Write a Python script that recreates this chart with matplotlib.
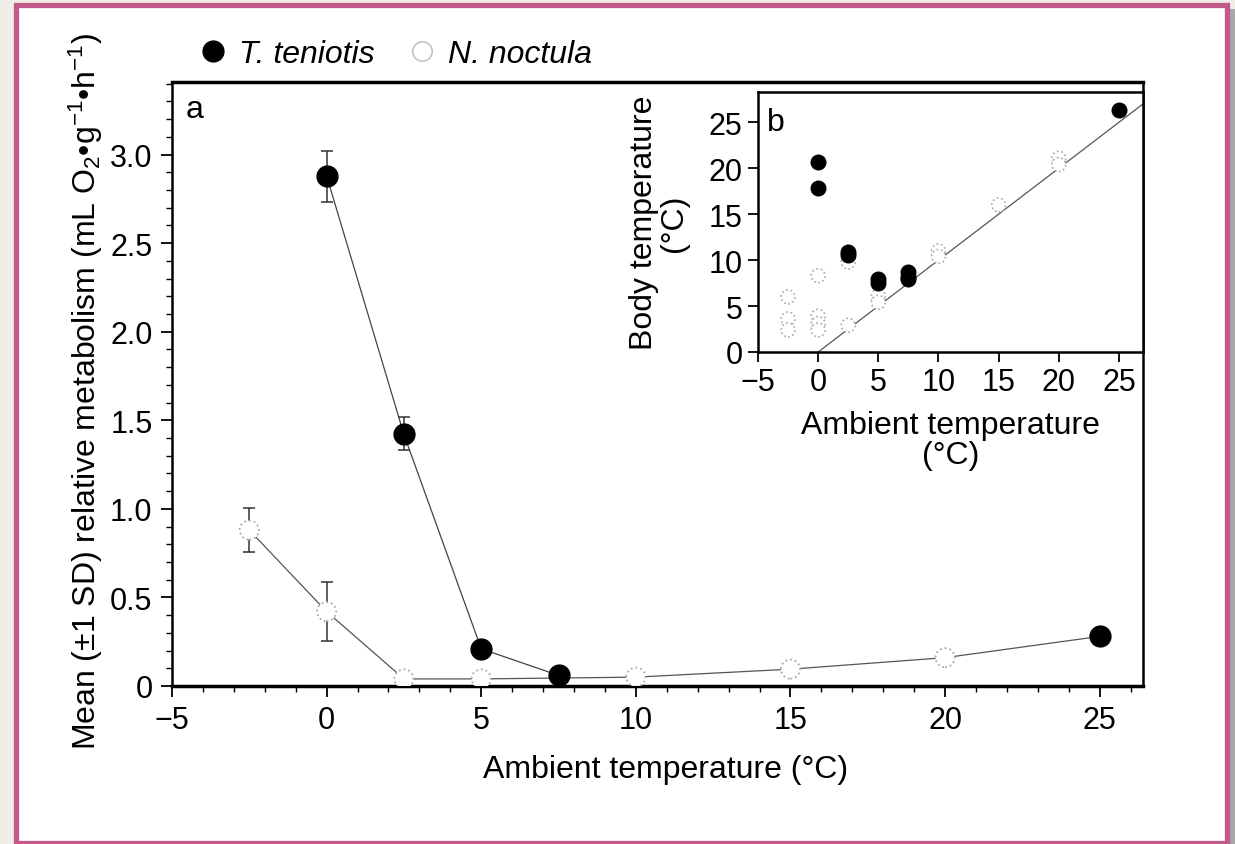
import matplotlib
matplotlib.use("Agg")
import matplotlib.pyplot as plt
from matplotlib.lines import Line2D
from matplotlib.patches import Rectangle
from matplotlib.ticker import MultipleLocator
import numpy as np

plt.rcParams["font.family"] = ["Liberation Sans", "DejaVu Sans"]
plt.rcParams["mathtext.fontset"] = "custom"
plt.rcParams["mathtext.rm"] = "Liberation Sans"
plt.rcParams["mathtext.it"] = "Liberation Sans:italic"

# panel a: mean relative metabolism
teni_x = [0, 2.5, 5, 7.5]
teni_y = [2.88, 1.42, 0.21, 0.06]
teni_err_lo = [0.15, 0.09, 0, 0]
teni_err_hi = [0.14, 0.10, 0, 0]
teni25_x = [25]
teni25_y = [0.28]

noct_x = [-2.5, 0, 2.5, 5, 10, 15, 20, 25]
noct_y = [0.88, 0.42, 0.04, 0.04, 0.05, 0.095, 0.16, 0.28]
noct_err = [0.125, 0.165, 0, 0, 0, 0, 0, 0]

# panel b: body vs ambient temperature
b_teni_x = [0, 0, 2.5, 2.5, 5, 5, 7.5, 7.5, 7.5, 25]
b_teni_y = [20.7, 17.8, 10.9, 10.6, 7.9, 7.5, 8.7, 8.2, 7.9, 26.3]
b_noct_x = [-2.5, -2.5, -2.5, 0, 0, 0, 0, 2.5, 2.5, 5, 5, 10, 10, 15, 20, 20]
b_noct_y = [6.0, 3.6, 2.4, 8.3, 3.9, 3.1, 2.4, 9.8, 2.9, 6.1, 5.4, 11.0, 10.4, 16.0, 21.1, 20.4]
iso_x = [0, 27]

W, H = 1235, 845
fig = plt.figure(figsize=(W / 100, H / 100), dpi=100, facecolor="#f1eee7")

# page frame
fig.patches.append(Rectangle((1229 / W, 0), 6 / W, 835 / H, transform=fig.transFigure,
                             facecolor="#a9a9a9", edgecolor="none", zorder=-2))
fig.patches.append(Rectangle((16 / W, 1 - 843.5 / H), (1226.5 - 16) / W, (843.5 - 5.7) / H,
                             transform=fig.transFigure, facecolor="white",
                             edgecolor="#c35a8a", linewidth=3.8, zorder=-1))

FS = 23
TFS = 22
grey = "#333333"
light = "#a8a8a8"

ax = fig.add_axes([172 / W, 1 - 687 / H, (1143 - 172) / W, (687 - 83) / H])
ax.set_facecolor("none")
ax.plot(noct_x, noct_y, color="#555555", lw=0.9, zorder=2)
ax.errorbar(noct_x, noct_y, yerr=noct_err, fmt="none", ecolor=grey, elinewidth=1.1,
            capsize=4, capthick=1.1, zorder=3)
ax.scatter(noct_x, noct_y, s=190, facecolors="white", edgecolors=light,
           linewidths=1.3, linestyles=":", zorder=4)
ax.plot(teni_x, teni_y, color="#444444", lw=0.9, zorder=2)
ax.errorbar(teni_x, teni_y, yerr=[teni_err_lo, teni_err_hi], fmt="none", ecolor=grey,
            elinewidth=1.1, capsize=4, capthick=1.1, zorder=3)
ax.plot(teni_x + teni25_x, teni_y + teni25_y, ls="none", marker="o", ms=15, color="black", zorder=5)

ax.set_xlim(-5, 26.4)
ax.set_ylim(0, 3.41)
ax.xaxis.set_major_locator(MultipleLocator(5))
ax.xaxis.set_minor_locator(MultipleLocator(1))
ax.yaxis.set_major_locator(MultipleLocator(0.5))
ax.yaxis.set_minor_locator(MultipleLocator(0.1))
ax.set_xticks(np.arange(-5, 26, 5))
ax.set_xticklabels(["\u22125", "0", "5", "10", "15", "20", "25"])
ax.set_yticks(np.arange(0, 3.01, 0.5))
ax.set_yticklabels(["0", "0.5", "1.0", "1.5", "2.0", "2.5", "3.0"])
ax.tick_params(which="major", direction="out", length=8, width=1.3, labelsize=TFS, pad=6)
ax.tick_params(which="minor", direction="out", length=4, width=1.0)
for s in ax.spines.values():
    s.set_linewidth(1.8)
ax.spines["bottom"].set_linewidth(2.5)
ax.spines["top"].set_linewidth(2.5)

ax.set_xlabel("Ambient temperature (\u00b0C)", fontsize=FS)
ax.xaxis.set_label_coords(0.508, -0.112)
ax.set_ylabel(r"Mean (±1 SD) relative metabolism (mL O$_2$•g$^{-1}$•h$^{-1}$)", fontsize=FS)
ax.yaxis.set_label_coords(-0.069, 0.49)
ax.text(0.014, 0.955, "a", transform=ax.transAxes, fontsize=FS, ha="left", va="center")

handles = [
    Line2D([], [], ls="none", marker="o", ms=15, color="black"),
    Line2D([], [], ls="none", marker="o", ms=14, mfc="white", mec="#c4c4c4", mew=1.2),
]
leg = fig.legend(handles, ["T. teniotis", "N. noctula"], loc="center left",
                 bbox_to_anchor=(197 / W, 1 - 55 / H), ncol=2, frameon=False,
                 borderpad=0, borderaxespad=0, handlelength=1.0, handletextpad=0.3,
                 columnspacing=1.0, prop={"size": FS, "style": "italic"})

# inset b
axb = fig.add_axes([758 / W, 1 - 353 / H, (1143 - 758) / W, (353 - 93) / H])
axb.set_facecolor("white")
axb.plot(iso_x, iso_x, color="#555555", lw=0.9, zorder=2)
axb.scatter(b_noct_x, b_noct_y, s=100, facecolors="white", edgecolors=light,
            linewidths=1.2, linestyles=":", zorder=3)
axb.plot(b_teni_x, b_teni_y, ls="none", marker="o", ms=10.5, color="black", zorder=4)
axb.set_xlim(-5, 27)
axb.set_ylim(0, 28.3)
axb.set_xticks(np.arange(-5, 26, 5))
axb.set_xticklabels(["\u22125", "0", "5", "10", "15", "20", "25"])
axb.set_yticks(np.arange(0, 26, 5))
axb.tick_params(direction="out", length=7, width=1.3, labelsize=TFS, pad=4)
for s in axb.spines.values():
    s.set_linewidth(1.8)
axb.set_xlabel("Ambient temperature\n(\u00b0C)", fontsize=FS, linespacing=1.0)
axb.xaxis.set_label_coords(0.5, -0.225)
axb.set_ylabel("Body temperature\n(\u00b0C)", fontsize=FS, linespacing=1.0)
axb.yaxis.set_label_coords(-0.178, 0.5)
axb.text(0.023, 0.885, "b", transform=axb.transAxes, fontsize=FS, ha="left", va="center")

fig.savefig("out.png", dpi=100, facecolor=fig.get_facecolor())
